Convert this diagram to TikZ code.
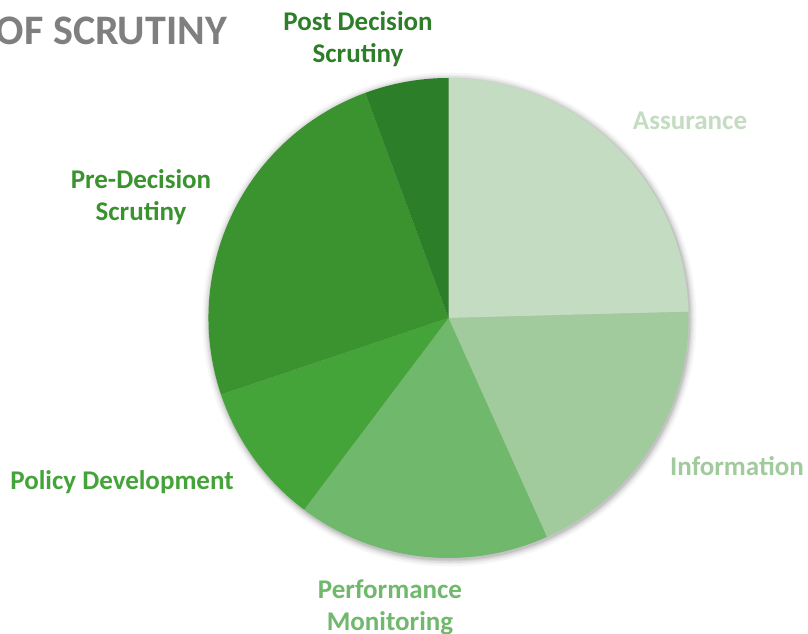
\documentclass[tikz,border=0pt]{standalone}
\usepackage{fontspec}
\setmainfont{Carlito}
\definecolor{cAss}{HTML}{C4DCC1}
\definecolor{cInf}{HTML}{A1CB9C}
\definecolor{cPer}{HTML}{70B86B}
\definecolor{cPol}{HTML}{45A439}
\definecolor{cPre}{HTML}{3A932F}
\definecolor{cPost}{HTML}{2D7E28}
\definecolor{cTitle}{HTML}{7F7F7F}
\begin{document}
\begin{tikzpicture}[x=1pt,y=1pt,
  lbl/.style={font=\bfseries\fontsize{27}{32}\selectfont, align=center, inner sep=0pt},
  slice/.style={draw=none}]
\useasboundingbox (0,0) rectangle (808,633);
\fill[white] (0,0) rectangle (808,633);
\coordinate (C) at (448.5,315);
% soft shadow
\foreach \r/\o in {247/0.03,245/0.04,243.5/0.05,242/0.06,241/0.07}{
  \fill[black,opacity=\o] ([xshift=1pt,yshift=-1.5pt]C) circle[radius=\r];
}
\fill[cAss]  (C) -- ++(90:240)   arc[start angle=90,   end angle=1.5,    radius=240] -- cycle;
\fill[cInf]  (C) -- ++(1.5:240)  arc[start angle=1.5,  end angle=-65.8,  radius=240] -- cycle;
\fill[cPer]  (C) -- ++(-65.8:240) arc[start angle=-65.8, end angle=-127,  radius=240] -- cycle;
\fill[cPol]  (C) -- ++(-127:240) arc[start angle=-127, end angle=-161.4, radius=240] -- cycle;
\fill[cPre]  (C) -- ++(-161.4:240) arc[start angle=-161.4, end angle=-249.7, radius=240] -- cycle;
\fill[cPost] (C) -- ++(110.3:240) arc[start angle=110.3, end angle=90,  radius=240] -- cycle;
% labels
\node[lbl, text=cTitle, font=\bfseries\fontsize{42}{44}\selectfont, anchor=base east] (title) at (227,588) {OF SCRUTINY};
\node[lbl, text=cPost] (post) at (358,594) {Post Decision\\Scrutiny};
\node[lbl, text=cAss] (ass) at (690,512) {Assurance};
\node[lbl, text=cPre] (pre) at (141,435.5) {Pre-Decision\\Scrutiny};
\node[lbl, text=cPol] (pol) at (122,151) {Policy Development};
\node[lbl, text=cInf] (inf) at (737,167) {Information};
\node[lbl, text=cPer] (per) at (390,26) {Performance\\Monitoring};
\end{tikzpicture}
\end{document}
